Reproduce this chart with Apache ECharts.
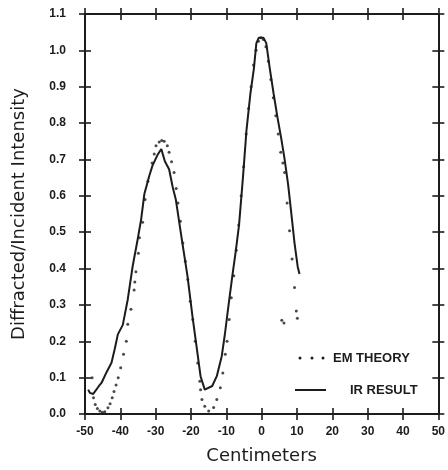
<!DOCTYPE html>
<html>
<head>
<meta charset="utf-8">
<script src="https://cdn.jsdelivr.net/npm/echarts@6/dist/echarts.min.js"></script>
<style>
html,body{margin:0;padding:0;background:#fff;}
#c{width:448px;height:470px;}
</style>
</head>
<body>
<div id="c"></div>
<script>
// Tick labels
const xTicks = [-50, -40, -30, -20, -10, 0, 10, 20, 30, 40, 50];
const yTicks = [0.0, 0.1, 0.2, 0.3, 0.4, 0.5, 0.6, 0.7, 0.8, 0.9, 1.0, 1.1];

// IR RESULT (solid line): [cm, intensity]
const irResult = [
  [-49.1,0.067],[-48.6,0.058],[-47.7,0.055],[-47.1,0.063],[-46.2,0.075],[-45.3,0.086],
  [-43.9,0.115],[-42.5,0.141],[-41.6,0.178],[-40.7,0.219],[-39.3,0.245],[-37.9,0.315],
  [-36.5,0.407],[-35.1,0.48],[-34.1,0.536],[-33.2,0.605],[-31.8,0.655],[-30.9,0.683],
  [-29.5,0.712],[-28.4,0.729],[-27.4,0.695],[-26.2,0.673],[-25.2,0.625],[-24.3,0.59],
  [-23.6,0.545],[-22.6,0.48],[-21.0,0.38],[-19.6,0.27],[-18.7,0.205],[-17.3,0.104],
  [-16.1,0.067],[-14.0,0.077],[-12.7,0.104],[-11.3,0.159],[-10.4,0.22],[-9.5,0.29],
  [-8.3,0.38],[-7.3,0.45],[-6.4,0.52],[-5.3,0.65],[-4.3,0.78],[-3.2,0.88],[-2.2,0.95],
  [-1.5,1.02],[-0.8,1.035],[0.5,1.035],[1.3,1.02],[2.3,0.95],[3.4,0.88],[4.4,0.82],
  [5.5,0.76],[6.5,0.70],[7.5,0.63],[8.3,0.56],[9.3,0.47],[10.2,0.405],[10.7,0.385]
];

// EM THEORY (dots): [cm, intensity]
const emTheory = [
  [-48.0,0.10],[-47.6,0.045],[-47.1,0.026],[-46.5,0.015],[-45.8,0.008],[-45.1,0.005],
  [-44.4,0.006],[-43.5,0.017],[-42.9,0.028],[-42.3,0.045],[-41.8,0.062],[-41.2,0.08],
  [-40.6,0.10],[-39.9,0.127],[-39.1,0.164],[-38.3,0.20],[-37.9,0.247],[-37.0,0.288],
  [-36.1,0.341],[-35.9,0.363],[-35.6,0.391],[-34.9,0.442],[-34.6,0.485],[-33.7,0.527],
  [-33.0,0.59],[-32.2,0.64],[-31.0,0.69],[-30.4,0.715],[-29.9,0.738],[-29.0,0.748],
  [-28.3,0.752],[-27.6,0.75],[-26.7,0.738],[-26.2,0.72],[-25.5,0.694],[-24.8,0.664],
  [-24.2,0.62],[-23.7,0.58],[-23.0,0.53],[-22.3,0.47],[-21.6,0.42],[-20.9,0.37],
  [-20.2,0.31],[-19.5,0.26],[-18.8,0.20],[-18.1,0.14],[-17.5,0.09],[-17.3,0.067],
  [-16.9,0.04],[-16.1,0.021],[-15.0,0.008],[-13.6,0.018],[-12.7,0.04],[-11.7,0.072],
  [-11.0,0.113],[-10.3,0.164],[-9.8,0.20],[-9.2,0.26],[-8.6,0.32],[-7.9,0.38],
  [-7.2,0.45],[-6.5,0.52],[-5.8,0.60],[-5.1,0.68],[-4.4,0.77],[-3.7,0.84],[-3.0,0.90],
  [-2.3,0.96],[-1.6,1.00],[-0.9,1.025],[-0.2,1.035],[0.5,1.03],[1.2,1.01],[1.9,0.97],
  [2.6,0.92],[3.3,0.87],[4.0,0.82],[4.7,0.77],[5.4,0.72],[6.0,0.69],[6.5,0.664],
  [7.2,0.58],[7.9,0.504],[8.6,0.426],[9.3,0.348],[9.8,0.283],[10.1,0.263],
  [5.7,0.258],[6.3,0.25]
];

const INK = '#1c1c1c';
const chart = echarts.init(document.getElementById('c'), null, {renderer: 'canvas'});

const xMin = xTicks[0], xMax = xTicks[xTicks.length-1], xInt = xTicks[1]-xTicks[0];
const yMin = yTicks[0], yMax = yTicks[yTicks.length-1];

function xAx(pos, inside, showLabel, showName){
  return {
    type:'value', min:xMin, max:xMax, interval:xInt, position:pos,
    axisLine:{show:true, onZero:false, lineStyle:{color:INK, width:2}},
    axisTick:{show:true, inside:inside, length:6, lineStyle:{color:INK, width:1.6}},
    axisLabel:{show:showLabel, margin:12, color:INK, fontFamily:'Liberation Sans', fontWeight:'bold', fontSize:12,
      formatter:v=>String(v)},
    splitLine:{show:false},
    name: showName ? 'Centimeters' : '',
    nameLocation:'middle', nameGap:33,
    nameTextStyle:{color:INK, fontFamily:'DejaVu Sans', fontSize:18}
  };
}
function yAx(pos, inside, showLabel, showName){
  return {
    type:'value', min:yMin, max:yMax, interval:0.1, position:pos,
    axisLine:{show:true, onZero:false, lineStyle:{color:INK, width:2}},
    axisTick:{show:true, inside:inside, length:6, lineStyle:{color:INK, width:1.6}},
    axisLabel:{show:showLabel, margin:19, color:INK, fontFamily:'Liberation Sans', fontWeight:'bold', fontSize:12,
      formatter:v=>v.toFixed(1)},
    splitLine:{show:false},
    name: showName ? 'Diffracted/Incident Intensity' : '',
    nameLocation:'middle', nameGap:57,
    nameTextStyle:{color:INK, fontFamily:'DejaVu Sans', fontSize:18}
  };
}

chart.setOption({
  backgroundColor:'#ffffff',
  animation:false,
  grid:{left:85, right:6, top:14, bottom:56, containLabel:false},
  xAxis:[xAx('bottom', false, true, true), xAx('bottom', true, false, false), xAx('top', false, false, false), xAx('top', true, false, false)],
  yAxis:[yAx('left', false, true, true), yAx('left', true, false, false), yAx('right', false, false, false), yAx('right', true, false, false)],
  series:[
    {
      name:'IR RESULT', type:'line', xAxisIndex:0, yAxisIndex:0,
      data:irResult, showSymbol:false, smooth:false,
      lineStyle:{color:INK, width:2}, z:3
    },
    {
      name:'EM THEORY', type:'scatter', xAxisIndex:0, yAxisIndex:0,
      data:emTheory, symbol:'circle', symbolSize:3,
      itemStyle:{color:INK}, z:4
    }
  ],
  graphic:[
    {type:'circle', shape:{cx:300, cy:358, r:1.5}, style:{fill:INK}},
    {type:'circle', shape:{cx:312, cy:358, r:1.5}, style:{fill:INK}},
    {type:'circle', shape:{cx:323, cy:358, r:1.5}, style:{fill:INK}},
    {type:'text', x:333, y:358, style:{text:'EM THEORY', fill:INK, font:'bold 13px "Liberation Sans"', textVerticalAlign:'middle', verticalAlign:'middle'}},
    {type:'line', shape:{x1:295, y1:390, x2:326, y2:390}, style:{stroke:INK, lineWidth:2}},
    {type:'text', x:350, y:390, style:{text:'IR RESULT', fill:INK, font:'bold 13px "Liberation Sans"', textVerticalAlign:'middle', verticalAlign:'middle'}}
  ]
});
</script>
</body>
</html>
